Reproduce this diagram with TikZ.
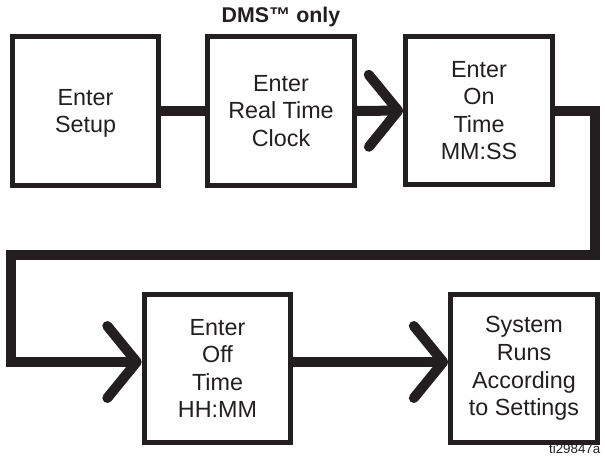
\documentclass[tikz,border=0pt]{standalone}
\usepackage{fontspec}
\setmainfont{Liberation Sans}
\usetikzlibrary{arrows.meta}
\definecolor{ink}{RGB}{35,31,32}
\tikzset{
    stepnode/.style={
        rectangle,
        draw=ink,
        line width=3.75pt,
        fill=white,
        minimum width=110pt,
        minimum height=111pt,
        inner sep=0pt,
        align=center,
        text=ink,
        font=\fontsize{17.5}{20.7}\selectfont
    },
    link/.style={
        draw=ink,
        line width=7.5pt
    },
    flowarrow/.style={
        link,
        -{Straight Barb[length=22pt, width=54pt, round]}
    },
    heading/.style={
        font=\fontsize{16}{18}\selectfont\bfseries,
        text=ink
    },
    figtag/.style={
        font=\fontsize{10}{11}\selectfont,
        text=ink
    }
}

\begin{document}
\begin{tikzpicture}[x=0.75pt, y=-0.75pt]
\useasboundingbox (0,0) rectangle (605,467);

% Top row
\node[stepnode, text depth=0pt] (setup) at (85.5,111) {Enter\\Setup};
\node[stepnode] (clock) at (281,111) {Enter\\Real Time\\Clock};
\node[stepnode] (ontime) at (479,110.5) {Enter\\On\\Time\\MM:SS};
\node[heading, anchor=base] (dmsonly) at (281,23) {DMS™ only};

% Bottom row
\node[stepnode] (offtime) at (217.5,368.5) {Enter\\Off\\Time\\HH:MM};
\node[stepnode] (system) at (524,368.5) {System\\Runs\\According\\to Settings};
\node[figtag, anchor=base east] (tag) at (605,453) {ti29847a};

% Connectors
\coordinate (loopR) at (594.5,254.5);
\coordinate (loopL) at (11,362);

\draw[link] (setup) -- (clock);
\draw[flowarrow] (clock) -- (ontime);
\draw[flowarrow] (ontime.east) -| (loopR) -| (loopL) -- (offtime.west |- loopL);
\draw[flowarrow] (offtime.east |- loopL) -- (system.west |- loopL);

\end{tikzpicture}
\end{document}
